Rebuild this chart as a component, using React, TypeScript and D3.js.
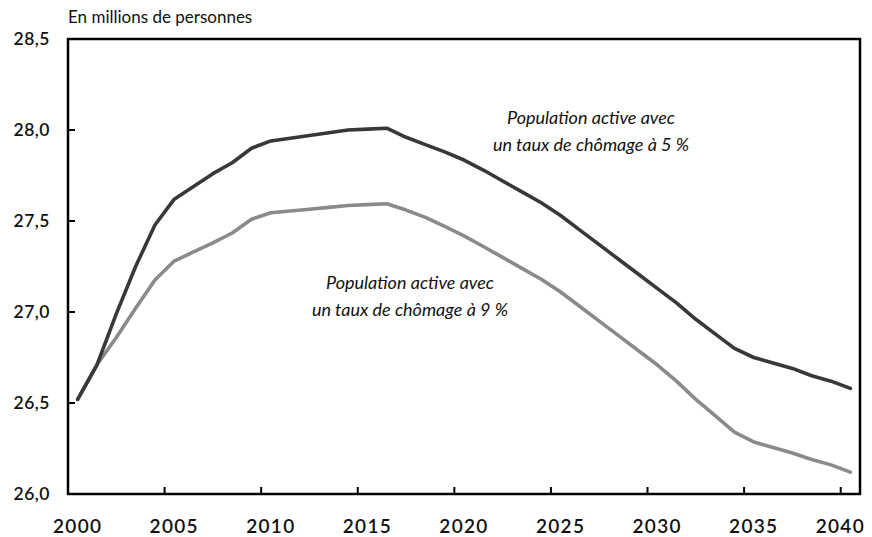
import React from "react";
import * as d3 from "d3";

const years: number[] = d3.range(2000, 2041);
const tickYears: number[] = [2000, 2005, 2010, 2015, 2020, 2025, 2030, 2035, 2040];
const yTicks: number[] = [26.0, 26.5, 27.0, 27.5, 28.0, 28.5];

const chomage5: number[] = [
  26.52, 26.71, 26.99, 27.25, 27.478, 27.62, 27.69, 27.76, 27.82, 27.9,
  27.94, 27.955, 27.97, 27.985, 28.0, 28.005, 28.01, 27.96, 27.92, 27.88,
  27.835, 27.78, 27.72, 27.66, 27.6, 27.53, 27.45, 27.37, 27.29, 27.21,
  27.13, 27.05, 26.96, 26.88, 26.8, 26.75, 26.72, 26.69, 26.65, 26.62, 26.58,
];
const chomage9: number[] = [
  26.52, 26.71, 26.86, 27.02, 27.176, 27.28, 27.33, 27.38, 27.434, 27.51,
  27.545, 27.555, 27.565, 27.575, 27.585, 27.59, 27.595, 27.56, 27.52, 27.47,
  27.418, 27.36, 27.3, 27.24, 27.18, 27.11, 27.03, 26.95, 26.87, 26.79,
  26.71, 26.62, 26.52, 26.43, 26.34, 26.286, 26.255, 26.225, 26.19, 26.16, 26.12,
];

const unitLabel = "En millions de personnes";
const label5 = ["Population active avec", "un taux de chômage à 5 %"];
const label9 = ["Population active avec", "un taux de chômage à 9 %"];

const W = 872;
const H = 537;
const left = 68;
const right = 860;
const top = 39;
const bottom = 494;
const font = "Lato, 'Open Sans', sans-serif";

export default function App() {
  const x = d3.scaleBand<number>().domain(years).range([left, right]).paddingInner(0).paddingOuter(0);
  const y = d3.scaleLinear().domain([26, 28.5]).range([bottom, top]);
  const cx = (yr: number) => (x(yr) as number) + x.bandwidth() / 2;
  const line = d3
    .line<number>()
    .x((_, i) => cx(years[i]))
    .y((d) => y(d));
  const fmt = (v: number) => v.toFixed(1).replace(".", ",");
  const lastYear = tickYears[tickYears.length - 1];

  return (
    <svg width={W} height={H} style={{ position: "absolute", left: 0, top: 0, background: "#fff" }}>
      <text x={left} y={23} fontFamily={font} fontSize={17} fill="#111">
        {unitLabel}
      </text>
      {yTicks.map((t) => (
        <g key={t}>
          <text x={50} y={y(t) + 6} textAnchor="end" fontFamily={font} fontSize={17.5} fontWeight={600} letterSpacing={0.5} fill="#111">
            {fmt(t)}
          </text>
          {t > 26 && t < 28.5 && (
            <line x1={left} x2={left + 7} y1={y(t)} y2={y(t)} stroke="#000" strokeWidth={2} />
          )}
        </g>
      ))}
      {tickYears.map((yr) => (
        <g key={yr}>
          <text
            x={yr === lastYear ? W - 7 : cx(yr)}
            y={533}
            textAnchor={yr === lastYear ? "end" : "middle"}
            fontFamily={font}
            fontSize={19}
            fontWeight={600}
            letterSpacing={1.3}
            fill="#111"
          >
            {yr}
          </text>
          {yr > 2000 && (
            <line x1={x(yr) as number} x2={x(yr) as number} y1={bottom} y2={bottom - 7} stroke="#000" strokeWidth={2} />
          )}
        </g>
      ))}
      <rect x={left} y={top} width={right - left} height={bottom - top} fill="none" stroke="#000" strokeWidth={2.5} />
      <path d={line(chomage9) as string} fill="none" stroke="#8a8a8a" strokeWidth={3.6} strokeLinejoin="round" strokeLinecap="round" />
      <path d={line(chomage5) as string} fill="none" stroke="#383838" strokeWidth={3.6} strokeLinejoin="round" strokeLinecap="round" />
      {label5.map((s, i) => (
        <text key={i} x={591} y={124 + i * 27} textAnchor="middle" fontFamily={font} fontSize={18} fontStyle="italic" fill="#111">
          {s}
        </text>
      ))}
      {label9.map((s, i) => (
        <text key={i} x={410} y={289 + i * 27} textAnchor="middle" fontFamily={font} fontSize={18} fontStyle="italic" fill="#111">
          {s}
        </text>
      ))}
    </svg>
  );
}
